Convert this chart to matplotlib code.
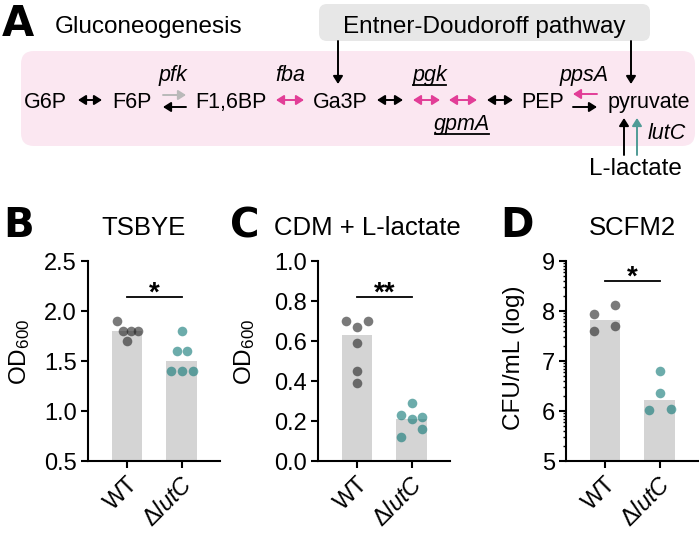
import numpy as np
import matplotlib
matplotlib.use('Agg')
import matplotlib.pyplot as plt
from matplotlib.patches import FancyBboxPatch, FancyArrowPatch
from matplotlib.ticker import FixedLocator
import matplotlib.transforms as mtransforms

plt.rcParams['font.family'] = ['Liberation Sans', 'DejaVu Sans']
plt.rcParams['mathtext.fontset'] = 'custom'
plt.rcParams['mathtext.rm'] = 'Liberation Sans'
plt.rcParams['mathtext.it'] = 'Liberation Sans:italic'
plt.rcParams['mathtext.bf'] = 'Liberation Sans:bold'

# ---------------- data ----------------
groups = ['WT', r'$\Delta\mathit{lutC}$']

tsbye_wt = [1.9, 1.8, 1.8, 1.8, 1.7]
tsbye_ko = [1.8, 1.6, 1.6, 1.4, 1.4, 1.4]
tsbye_bars = [1.8, 1.5]

cdm_wt = [0.70, 0.67, 0.70, 0.59, 0.45, 0.39]
cdm_ko = [0.29, 0.23, 0.21, 0.22, 0.16, 0.12]
cdm_bars = [0.63, 0.21]

scfm_wt = [7.95, 8.12, 7.60, 7.70]
scfm_ko = [6.80, 6.37, 6.02, 6.05]
scfm_bars = [7.83, 6.23]

# swarm offsets of the dots (category units)
tsbye_wt_dx = [-0.18, -0.073, 0.073, 0.2, 0.0]
tsbye_ko_dx = [0.0, -0.09, 0.09, -0.2, 0.0, 0.2]
cdm_wt_dx = [-0.19, 0.0, 0.195, 0.0, 0.0, 0.0]
cdm_ko_dx = [0.0, -0.2, 0.0, 0.19, 0.19, -0.2]
scfm_wt_dx = [-0.2, 0.19, -0.2, 0.19]
scfm_ko_dx = [0.0, 0.0, -0.19, 0.2]

W, H = 699, 534
fig = plt.figure(figsize=(W / 100, H / 100), dpi=100)

# ---------------- panel A (diagram, pixel coordinates) ----------------
axA = fig.add_axes([0, 0, 1, 1], zorder=0)
axA.set_xlim(0, W)
axA.set_ylim(H, 0)
axA.axis('off')

PINK_BG = '#fbe7f1'
GRAY_BG = '#e7e7e7'
PINK = '#e23d97'
TEAL = '#4f9b96'
LGRAY = '#b9b9b9'

axA.add_patch(FancyBboxPatch((21, 51), 674, 95, boxstyle='round,pad=0,rounding_size=13',
                             fc=PINK_BG, ec='none', zorder=0))
axA.add_patch(FancyBboxPatch((319, 4), 331, 37, boxstyle='round,pad=0,rounding_size=8',
                             fc=GRAY_BG, ec='none', zorder=0))


def arrow(x0, y0, x1, y1, color='black', double=False):
    style = '<|-|>' if double else '-|>'
    axA.add_patch(FancyArrowPatch((x0, y0), (x1, y1),
                                  arrowstyle=f'{style},head_length=0.38,head_width=0.24',
                                  mutation_scale=12, lw=1.4, color=color,
                                  shrinkA=0, shrinkB=0, zorder=2))


def txt(x, y, s, size, ha='center', style='normal', weight='normal', color='black', family=None):
    kw = {}
    if family is not None:
        kw['family'] = family
    return axA.text(x, y, s, fontsize=size, ha=ha, va='baseline', style=style,
                    weight=weight, color=color, zorder=3, **kw)


MET = 15.5
GENE = 15.5
txt(2, 36, 'A', 30, ha='left', weight='bold', family='DejaVu Sans')
txt(55, 33, 'Gluconeogenesis', 17.5, ha='left')
txt(484, 33, 'Entner-Doudoroff pathway', 17.5)

txt(45, 108, 'G6P', MET)
txt(131.5, 108, 'F6P', MET)
txt(231, 108, 'F1,6BP', MET)
txt(340, 108, 'Ga3P', MET)
txt(542.5, 108, 'PEP', MET)
txt(648.5, 108, 'pyruvate', MET)
txt(635.5, 175, 'L-lactate', 17.5)

txt(173, 81, 'pfk', GENE, style='italic')
txt(290.5, 81, 'fba', GENE, style='italic')
t_pgk = txt(429.5, 81, 'pgk', GENE, style='italic')
txt(584, 81, 'ppsA', GENE, style='italic')
t_gpm = txt(462, 130, 'gpmA', GENE, style='italic')
txt(667, 139, 'lutC', GENE, style='italic')

arrow(78, 100, 102, 100, double=True)
arrow(163, 95, 186, 95, color=LGRAY)
arrow(186, 107, 163, 107)
arrow(276, 100, 304, 100, color=PINK, double=True)
arrow(377, 100, 403, 100, double=True)
arrow(413, 100, 440, 100, color=PINK, double=True)
arrow(449, 100, 477, 100, color=PINK, double=True)
arrow(487, 100, 513, 100, double=True)
arrow(597, 94, 573, 94, color=PINK)
arrow(573, 107, 597, 107)
arrow(338, 41, 338, 84)
arrow(631, 41, 631, 84)
arrow(624, 155, 624, 118)
arrow(637, 155, 637, 118, color=TEAL)

renderer = fig.canvas.get_renderer()
inv = axA.transData.inverted()
for t, yu in ((t_pgk, 85), (t_gpm, 133.5)):
    bb = t.get_window_extent(renderer=renderer)
    (x0, _), (x1, _) = inv.transform([[bb.x0, bb.y0], [bb.x1, bb.y1]])
    axA.plot([x0 + 1, x1 - 1], [yu, yu], color='black', lw=1.3, zorder=3)

# panel letters and titles
for x, s in ((3, 'B'), (230, 'C'), (500, 'D')):
    txt(x, 237, s, 29, ha='left', weight='bold', family='DejaVu Sans')
txt(144, 235, 'TSBYE', 18.5)
txt(367, 235, 'CDM + L-lactate', 18.5)
txt(632, 235, 'SCFM2', 18.5)


# ---------------- bar/dot panels ----------------
def axes_at(left_px):
    return fig.add_axes([left_px / W, (H - 461) / H, 132 / W, 200 / H], zorder=1, facecolor='none')


def panel(ax, wt, ko, bars, wt_dx, ko_dx, ylim, yticks, yfmt, ylabel, lab_xy, sig_y, stars):
    x = np.arange(2)
    ax.bar(x, bars, width=0.56, color='#d4d4d4', zorder=1)
    ax.scatter(0 + np.array(wt_dx), wt, s=48, color=(0.13, 0.13, 0.13), alpha=0.6, lw=0, zorder=3)
    ax.scatter(1 + np.array(ko_dx), ko, s=48, color=(0.04, 0.46, 0.455), alpha=0.6, lw=0, zorder=3)
    ax.set_xlim(-0.71, 1.70)
    ax.set_ylim(*ylim)
    ax.set_yticks(yticks)
    ax.set_yticklabels([yfmt.format(v) for v in yticks])
    ax.set_xticks(x)
    ax.set_xticklabels(groups, rotation=45, ha='right', va='top', rotation_mode='anchor')
    for s in ('top', 'right'):
        ax.spines[s].set_visible(False)
    for s in ('left', 'bottom'):
        ax.spines[s].set_linewidth(1.5)
    ax.tick_params(axis='both', which='major', width=1.5, length=5, labelsize=17, pad=3)
    ax.tick_params(axis='x', pad=4)
    ax.set_ylabel(ylabel, fontsize=17.5, va='center')
    ax.yaxis.set_label_coords(*lab_xy)
    ax.plot([0, 1], [sig_y, sig_y], color='black', lw=1.3, clip_on=False, zorder=4)
    trans = mtransforms.offset_copy(ax.transData, fig=fig, y=-4, units='dots')
    ax.text(0.5, sig_y, stars, transform=trans, ha='center', va='baseline',
            fontsize=20, fontweight='bold', clip_on=False)


axB = axes_at(88)
panel(axB, tsbye_wt, tsbye_ko, tsbye_bars, tsbye_wt_dx, tsbye_ko_dx,
      (0.5, 2.5), [0.5, 1.0, 1.5, 2.0, 2.5], '{:.1f}', 'OD$_{600}$', (-0.515, 0.545), 2.14, '*')

axC = axes_at(318)
panel(axC, cdm_wt, cdm_ko, cdm_bars, cdm_wt_dx, cdm_ko_dx,
      (0.0, 1.0), [0.0, 0.2, 0.4, 0.6, 0.8, 1.0], '{:.1f}', 'OD$_{600}$', (-0.56, 0.545), 0.82, '**')

axD = axes_at(566)
panel(axD, scfm_wt, scfm_ko, scfm_bars, scfm_wt_dx, scfm_ko_dx,
      (5, 9), [5, 6, 7, 8, 9], '{:d}', 'CFU/mL (log)', (-0.394, 0.5175), 8.6, '*')
minor = [d + np.log10(k) for d in range(5, 9) for k in range(2, 10)]
axD.yaxis.set_minor_locator(FixedLocator(minor))
axD.tick_params(axis='y', which='minor', width=1.0, length=2.5)

fig.savefig('out.png', dpi=100)
